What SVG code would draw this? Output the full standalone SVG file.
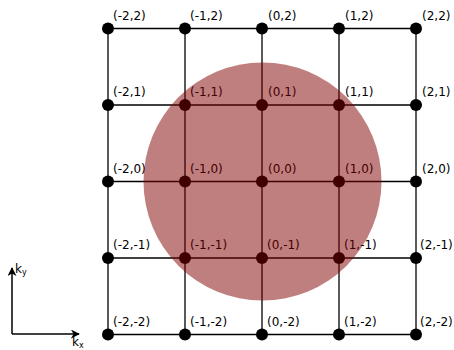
<svg xmlns="http://www.w3.org/2000/svg" width="454" height="350" viewBox="0 0 454 350">
<defs>
<style>
.g{stroke:#000;stroke-width:1.3;fill:none}
.d{fill:#000}
.t{font-family:"DejaVu Sans",sans-serif;font-size:12px;fill:#000}
.ax{stroke:#000;stroke-width:1.5;fill:none}
</style>
<marker id="ah" viewBox="0 0 10 10" refX="9" refY="5" markerWidth="9" markerHeight="9" markerUnits="userSpaceOnUse" orient="auto">
<path d="M0,0 L10,5 L0,10 L3,5 Z" fill="#000"/>
</marker>
</defs>
<g id="connectors">
<line class="g" x1="108" y1="28.5" x2="416" y2="28.5"/>
<line class="g" x1="108" y1="105" x2="416" y2="105"/>
<line class="g" x1="108" y1="181.5" x2="416" y2="181.5"/>
<line class="g" x1="108" y1="258" x2="416" y2="258"/>
<line class="g" x1="108" y1="334.5" x2="416" y2="334.5"/>
<line class="g" x1="108" y1="28.5" x2="108" y2="334.5"/>
<line class="g" x1="185" y1="28.5" x2="185" y2="334.5"/>
<line class="g" x1="262" y1="28.5" x2="262" y2="334.5"/>
<line class="g" x1="339" y1="28.5" x2="339" y2="334.5"/>
<line class="g" x1="416" y1="28.5" x2="416" y2="334.5"/>
</g>
<g id="nodes">
<g id="n-2_2"><circle class="d" cx="108" cy="28.5" r="6"/><text class="t" x="113" y="20">(-2,2)</text></g>
<g id="n-1_2"><circle class="d" cx="185" cy="28.5" r="6"/><text class="t" x="190" y="20">(-1,2)</text></g>
<g id="n0_2"><circle class="d" cx="262" cy="28.5" r="6"/><text class="t" x="268" y="20">(0,2)</text></g>
<g id="n1_2"><circle class="d" cx="339" cy="28.5" r="6"/><text class="t" x="345" y="20">(1,2)</text></g>
<g id="n2_2"><circle class="d" cx="416" cy="28.5" r="6"/><text class="t" x="422" y="20">(2,2)</text></g>

<g id="n-2_1"><circle class="d" cx="108" cy="105" r="6"/><text class="t" x="113" y="96">(-2,1)</text></g>
<g id="n-1_1"><circle class="d" cx="185" cy="105" r="6"/><text class="t" x="190" y="96">(-1,1)</text></g>
<g id="n0_1"><circle class="d" cx="262" cy="105" r="6"/><text class="t" x="268" y="96">(0,1)</text></g>
<g id="n1_1"><circle class="d" cx="339" cy="105" r="6"/><text class="t" x="345" y="96">(1,1)</text></g>
<g id="n2_1"><circle class="d" cx="416" cy="105" r="6"/><text class="t" x="422" y="96">(2,1)</text></g>

<g id="n-2_0"><circle class="d" cx="108" cy="181.5" r="6"/><text class="t" x="113" y="172.5">(-2,0)</text></g>
<g id="n-1_0"><circle class="d" cx="185" cy="181.5" r="6"/><text class="t" x="190" y="172.5">(-1,0)</text></g>
<g id="n0_0"><circle class="d" cx="262" cy="181.5" r="6"/><text class="t" x="268" y="172.5">(0,0)</text></g>
<g id="n1_0"><circle class="d" cx="339" cy="181.5" r="6"/><text class="t" x="345" y="172.5">(1,0)</text></g>
<g id="n2_0"><circle class="d" cx="416" cy="181.5" r="6"/><text class="t" x="422" y="172.5">(2,0)</text></g>

<g id="n-2_-1"><circle class="d" cx="108" cy="258" r="6"/><text class="t" x="113" y="249">(-2,-1)</text></g>
<g id="n-1_-1"><circle class="d" cx="185" cy="258" r="6"/><text class="t" x="190" y="249">(-1,-1)</text></g>
<g id="n0_-1"><circle class="d" cx="262" cy="258" r="6"/><text class="t" x="267" y="249">(0,-1)</text></g>
<g id="n1_-1"><circle class="d" cx="339" cy="258" r="6"/><text class="t" x="344" y="249">(1,-1)</text></g>
<g id="n2_-1"><circle class="d" cx="416" cy="258" r="6"/><text class="t" x="420" y="249">(2,-1)</text></g>

<g id="n-2_-2"><circle class="d" cx="108" cy="334.5" r="6"/><text class="t" x="113" y="325.5">(-2,-2)</text></g>
<g id="n-1_-2"><circle class="d" cx="185" cy="334.5" r="6"/><text class="t" x="190" y="325.5">(-1,-2)</text></g>
<g id="n0_-2"><circle class="d" cx="262" cy="334.5" r="6"/><text class="t" x="267" y="325.5">(0,-2)</text></g>
<g id="n1_-2"><circle class="d" cx="339" cy="334.5" r="6"/><text class="t" x="344" y="325.5">(1,-2)</text></g>
<g id="n2_-2"><circle class="d" cx="416" cy="334.5" r="6"/><text class="t" x="420" y="325.5">(2,-2)</text></g>
</g>
<g id="disk">
<circle cx="262.5" cy="181.5" r="119" fill="#800000" fill-opacity="0.5"/>
</g>
<g id="axes">
<line class="ax" x1="12" y1="334" x2="12" y2="268" marker-end="url(#ah)"/>
<line class="ax" x1="12" y1="334" x2="79" y2="334" marker-end="url(#ah)"/>
<text class="t" x="15" y="273" font-size="12">k<tspan font-size="8" dy="2">y</tspan></text>
<text class="t" x="72" y="346" font-size="12">k<tspan font-size="8" dy="2">x</tspan></text>
</g>
</svg>
